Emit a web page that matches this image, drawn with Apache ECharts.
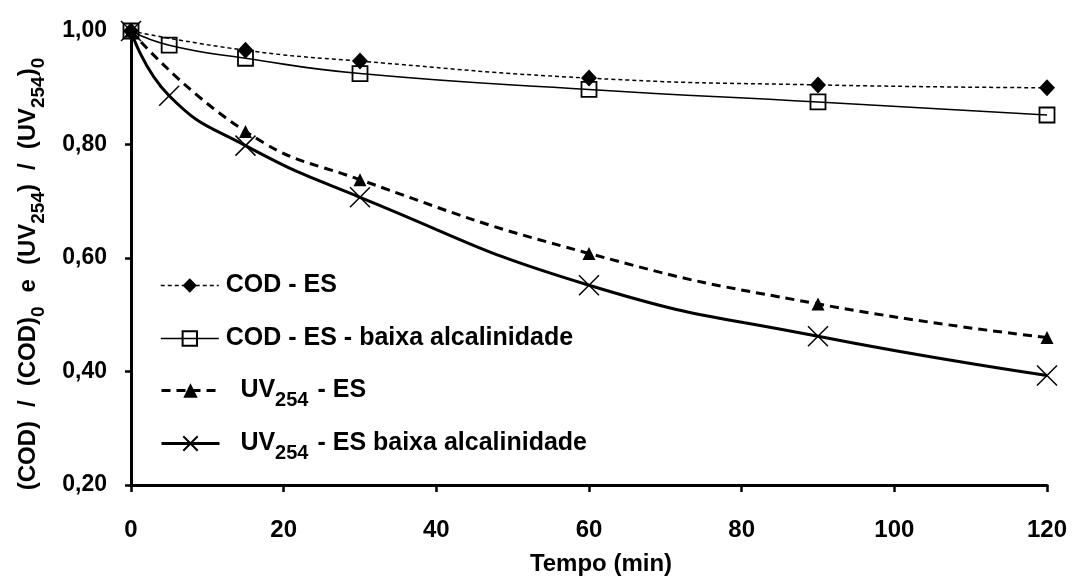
<!DOCTYPE html>
<html>
<head>
<meta charset="utf-8">
<script src="https://cdn.jsdelivr.net/npm/echarts@6/dist/echarts.min.js"></script>
<style>
  html, body { margin: 0; padding: 0; background: #fff; }
  #chart { width: 1077px; height: 581px; }
</style>
</head>
<body>
<div id="chart"></div>
<script>
// Relative COD and UV254 decay over reaction time
const FONT = '"Liberation Sans", Arial, sans-serif';

const timeCodEs = [0, 15, 30, 60, 90, 120];
const codEs = [1.000, 0.966, 0.947, 0.917, 0.905, 0.900];

const timeCodBaixa = [0, 5, 15, 30, 60, 90, 120];
const codEsBaixa = [1.000, 0.975, 0.952, 0.925, 0.897, 0.875, 0.852];

const timeUvEs = [0, 15, 30, 60, 90, 120];
const uvEs = [1.000, 0.823, 0.738, 0.608, 0.519, 0.460];

const timeUvBaixa = [0, 5, 15, 30, 60, 90, 120];
const uvEsBaixa = [1.000, 0.886, 0.798, 0.707, 0.552, 0.462, 0.393];

const seriesNames = ['COD - ES', 'COD - ES - baixa alcalinidade', 'UV254 - ES', 'UV254 - ES baixa alcalinidade'];
// every legend row carries a blank subscript token so all rows share one height
const legendLabels = [
  '{b|COD - ES}{s| }',
  '{b|COD - ES - baixa alcalinidade}{s| }',
  '{b|  UV}{s|254}{b| - ES}',
  '{b|  UV}{s|254}{b| - ES baixa alcalinidade}'
];
const legendRowCenters = [283, 336, 388, 441];
const xTicks = { min: 0, max: 120, interval: 20 };
const yTicks = { min: 0.2, max: 1.0, interval: 0.2 };
const yAxisTitle = '{m|(COD)}{g|/}{m|(COD)}{s|0}{g|e}{m|(UV}{s|254}{m|)}{g|/}{m|(UV}{s|254}{m|)}{s|0}';
const xAxisTitle = 'Tempo (min)';

const pairs = (xs, ys) => xs.map((x, i) => [x, ys[i]]);
const crossPath = 'path://M0,0L10,10M10,0L0,10';

const legendRich = {
  b: { fontFamily: FONT, fontSize: 25, fontWeight: 'bold', color: '#000', padding: [0, 0, 0, 2] },
  s: { fontFamily: FONT, fontSize: 20, fontWeight: 'bold', color: '#000', padding: [20, 0, 0, 0] }
};
const legends = seriesNames.map((name, i) => ({
  orient: 'vertical',
  left: 160,
  top: legendRowCenters[i] - 10,
  padding: 0,
  itemWidth: 58,
  itemHeight: 18,
  selectedMode: false,
  data: [name],
  formatter: () => legendLabels[i],
  lineStyle: { width: 'inherit', type: 'inherit' },
  textStyle: { fontFamily: FONT, rich: legendRich }
}));

const chart = echarts.init(document.getElementById('chart'), null, { renderer: 'canvas' });

chart.setOption({
  animation: false,
  backgroundColor: '#fff',
  textStyle: { fontFamily: FONT, color: '#000' },
  grid: { left: 131, right: 30, top: 31, bottom: 94, containLabel: false },
  legend: legends,
  xAxis: {
    type: 'value',
    min: xTicks.min,
    max: xTicks.max,
    interval: xTicks.interval,
    name: xAxisTitle,
    nameLocation: 'middle',
    nameGap: 67,
    nameTextStyle: { fontFamily: FONT, fontSize: 24, fontWeight: 'bold', color: '#000', padding: [0, 0, 0, 24] },
    axisLine: { show: true, lineStyle: { color: '#000', width: 3 } },
    axisTick: { show: true, inside: false, length: 7, lineStyle: { color: '#000', width: 2.5 } },
    axisLabel: { margin: 33, fontFamily: FONT, fontSize: 24, fontWeight: 'bold', color: '#000' },
    splitLine: { show: false }
  },
  yAxis: {
    type: 'value',
    min: yTicks.min,
    max: yTicks.max,
    interval: yTicks.interval,
    name: yAxisTitle,
    nameLocation: 'middle',
    nameGap: 83,
    nameRotate: 90,
    nameTextStyle: {
      fontFamily: FONT,
      padding: [0, 32, 0, 0],
      rich: {
        m: { fontFamily: FONT, fontSize: 24, fontWeight: 'bold', color: '#000' },
        g: { fontFamily: FONT, fontSize: 24, fontWeight: 'bold', color: '#000', padding: [0, 14, 0, 14] },
        s: { fontFamily: FONT, fontSize: 19, fontWeight: 'bold', color: '#000', padding: [20, 0, 0, 0] }
      }
    },
    axisLine: { show: true, lineStyle: { color: '#000', width: 3 } },
    axisTick: { show: true, inside: false, length: 6, lineStyle: { color: '#000', width: 2.5 } },
    axisLabel: {
      margin: 24,
      fontFamily: FONT, fontSize: 23, fontWeight: 'bold', color: '#000',
      formatter: v => v.toFixed(2).replace('.', ',')
    },
    splitLine: { show: false }
  },
  series: [
    {
      name: seriesNames[0],
      type: 'line',
      data: pairs(timeCodEs, codEs),
      smooth: 0.5,
      symbol: 'diamond',
      symbolSize: [16, 17],
      itemStyle: { color: '#000', borderWidth: 0 },
      lineStyle: { color: '#000', width: 1.5, type: [4, 3] },
      z: 3
    },
    {
      name: seriesNames[1],
      type: 'line',
      data: pairs(timeCodBaixa, codEsBaixa),
      smooth: 0.5,
      symbol: 'rect',
      symbolSize: 15,
      itemStyle: { color: 'rgba(0,0,0,0)', borderColor: '#000', borderWidth: 1.8 },
      lineStyle: { color: '#000', width: 1.6, type: 'solid' },
      z: 2
    },
    {
      name: seriesNames[2],
      type: 'line',
      data: pairs(timeUvEs, uvEs),
      smooth: 0.5,
      symbol: 'triangle',
      symbolSize: 13,
      itemStyle: { color: '#000', borderWidth: 0 },
      lineStyle: { color: '#000', width: 3, type: [9, 6] },
      z: 3
    },
    {
      name: seriesNames[3],
      type: 'line',
      data: pairs(timeUvBaixa, uvEsBaixa),
      smooth: 0.5,
      symbol: crossPath,
      symbolSize: 20,
      itemStyle: { color: 'rgba(0,0,0,0)', borderColor: '#000', borderWidth: 1.5 },
      lineStyle: { color: '#000', width: 3, type: 'solid' },
      z: 2
    }
  ]
});
</script>
</body>
</html>
